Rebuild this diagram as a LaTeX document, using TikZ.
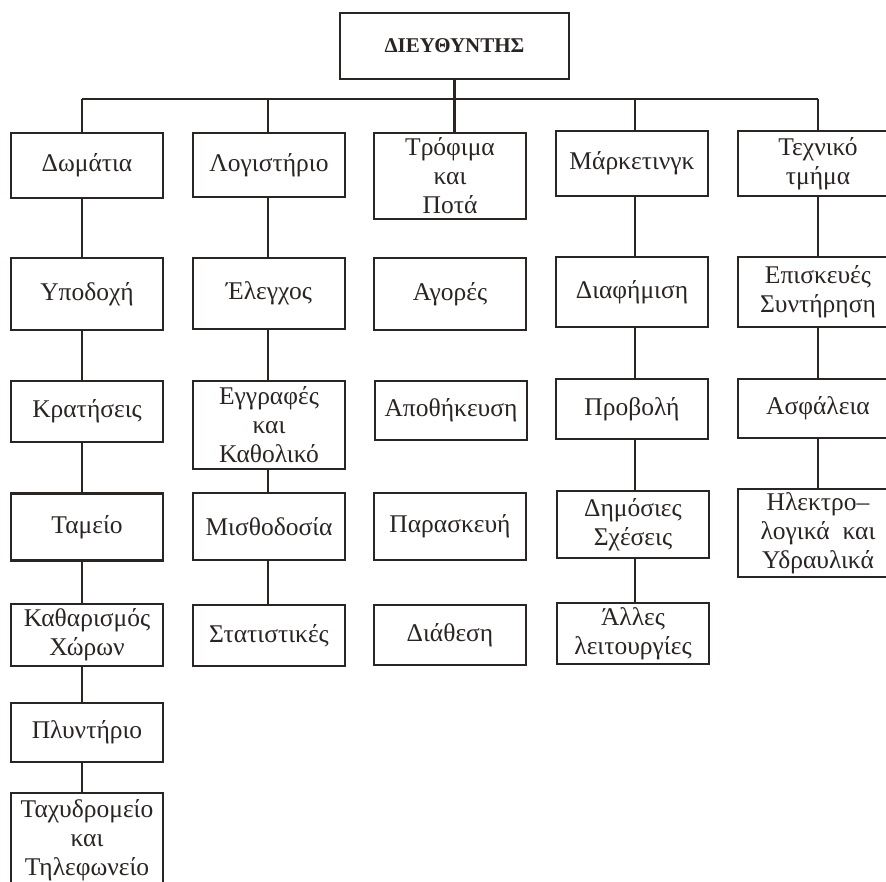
\documentclass[tikz,border=0pt]{standalone}
\usepackage{fontspec}
\setmainfont{Liberation Serif}
\definecolor{ink}{HTML}{2A2422}
\begin{document}
\begin{tikzpicture}[x=1pt,y=-1pt,
  obox/.style={draw=ink, line width=2.6pt, rectangle, inner sep=0pt, align=center,
    minimum width=152pt, text=ink, font=\fontsize{25.5}{29}\selectfont},
  link/.style={draw=ink, line width=2.2pt}]
\useasboundingbox (0,0) rectangle (886,881);

% head of the organisation
\node[obox, minimum width=229pt, minimum height=66pt, font=\fontsize{21}{24}\selectfont\bfseries]
  (top) at (454.5,46) {ΔΙΕΥΘΥΝΤΗΣ};

% first level: departments
\node[obox, minimum height=65pt] (d1) at (87,165.5)  {Δωμάτια};
\node[obox, minimum height=64pt] (l1) at (269,165)   {Λογιστήριο};
\node[obox, minimum height=86pt] (t1) at (450,176)   {Τρόφιμα\\και\\Ποτά};
\node[obox, minimum height=65pt] (m1) at (632,163.5) {Μάρκετινγκ};
\node[obox, minimum height=65pt, minimum width=160pt] (e1) at (818,163.5) {Τεχνικό\\τμήμα};

% second level
\node[obox, minimum height=72pt] (d2) at (87,294)   {Υποδοχή};
\node[obox, minimum height=71pt] (l2) at (269,293.5) {Έλεγχος};
\node[obox, minimum height=72pt] (t2) at (450,294)  {Αγορές};
\node[obox, minimum height=70pt] (m2) at (632,292)  {Διαφήμιση};
\node[obox, minimum height=70pt, minimum width=160pt] (e2) at (818,292) {Επισκευές\\Συντήρηση};

% third level
\node[obox, minimum height=61pt] (d3) at (87,411.5)  {Κρατήσεις};
\node[obox, minimum height=88pt] (l3) at (269,425)   {Εγγραφές\\και\\Καθολικό};
\node[obox, minimum height=59pt] (t3) at (451,410.5) {Αποθήκευση};
\node[obox, minimum height=60pt] (m3) at (632,409)   {Προβολή};
\node[obox, minimum height=59pt, minimum width=160pt] (e3) at (818,408.5) {Ασφάλεια};

% fourth level
\node[obox, minimum height=67pt] (d4) at (87,527)    {Ταμείο};
\node[obox, minimum height=67pt] (l4) at (269,526.5) {Μισθοδοσία};
\node[obox, minimum height=67pt] (t4) at (450,526.5) {Παρασκευή};
\node[obox, minimum height=67pt] (m4) at (633,524.5) {Δημόσιες\\Σχέσεις};
\node[obox, minimum height=88pt, minimum width=160pt] (e4) at (818,533) {Ηλεκτρο–\\λογικά\ \ και\\Υδραυλικά};

% fifth level
\node[obox, minimum height=62pt] (d5) at (87,635)    {Καθαρισμός\\Χώρων};
\node[obox, minimum height=61pt] (l5) at (269,635.5) {Στατιστικές};
\node[obox, minimum height=60pt] (t5) at (450,635)   {Διάθεση};
\node[obox, minimum height=61pt] (m5) at (633,633.5) {Άλλες\\λειτουργίες};

% sixth and seventh level
\node[obox, minimum height=59pt] (d6) at (87,732.5) {Πλυντήριο};
\node[obox, minimum height=95pt] (d7) at (87,840.5) {Ταχυδρομείο\\και\\Τηλεφωνείο};

% horizontal bus under the head
\coordinate (b1) at (82,99);
\coordinate (b2) at (268,99);
\coordinate (b4) at (635,99);
\coordinate (b5) at (818,99);
\draw[link] (b1) -- (b5);
\draw[link] (top.south) -- (top.south |- t1.north);
\draw[link] (b1) -- (d1.north -| b1);
\draw[link] (b2) -- (l1.north -| b2);
\draw[link] (b4) -- (m1.north -| b4);
\draw[link] (b5) -- (e1.north -| b5);

% vertical chains inside the columns
\foreach \a/\b in {d1/d2,d2/d3,d3/d4,d4/d5,d5/d6,d6/d7}
  \draw[link] (\a.south -| b1) -- (\b.north -| b1);
\foreach \a/\b in {l1/l2,l2/l3,l3/l4,l4/l5}
  \draw[link] (\a.south -| b2) -- (\b.north -| b2);
\foreach \a/\b in {m1/m2,m2/m3,m3/m4,m4/m5}
  \draw[link] (\a.south -| b4) -- (\b.north -| b4);
\foreach \a/\b in {e1/e2,e2/e3,e3/e4}
  \draw[link] (\a.south -| b5) -- (\b.north -| b5);
\end{tikzpicture}
\end{document}
